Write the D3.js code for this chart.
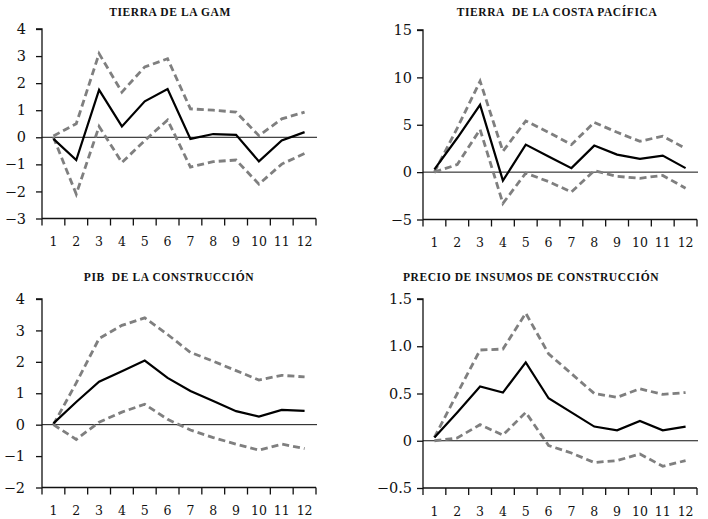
<!DOCTYPE html>
<html><head><meta charset="utf-8">
<script src="https://cdn.jsdelivr.net/npm/d3@7"></script>
<style>
html,body{margin:0;padding:0;background:#fff;}
svg{display:block;}
</style>
</head><body>
<script>
const categories = [1,2,3,4,5,6,7,8,9,10,11,12];

const titles = ["TIERRA DE LA GAM", "TIERRA\u00a0 DE LA COSTA PACÍFICA", "PIB\u00a0 DE LA CONSTRUCCIÓN", "PRECIO DE INSUMOS DE CONSTRUCCIÓN"];

const gamCenter = [-0.06,-0.84,1.75,0.40,1.33,1.78,-0.06,0.12,0.09,-0.89,-0.12,0.19];
const gamUpper  = [0.05,0.50,3.09,1.67,2.60,2.90,1.05,1.00,0.93,0.06,0.68,0.93];
const gamLower  = [0.00,-2.10,0.40,-0.93,-0.12,0.64,-1.10,-0.90,-0.84,-1.73,-0.99,-0.60];

const costaCenter = [0.3,3.6,7.1,-0.9,2.9,1.65,0.42,2.8,1.85,1.4,1.75,0.42];
const costaUpper  = [0.0,4.65,9.6,2.2,5.4,4.2,2.9,5.25,4.2,3.25,3.8,2.5];
const costaLower  = [0.0,0.8,4.5,-3.3,-0.1,-1.0,-2.1,0.15,-0.45,-0.65,-0.35,-1.7];

const pibCenter = [0.04,0.72,1.37,1.70,2.04,1.49,1.07,0.75,0.43,0.26,0.47,0.44];
const pibUpper  = [0.0,1.33,2.74,3.16,3.40,2.87,2.30,2.02,1.72,1.42,1.57,1.52];
const pibLower  = [0.0,-0.47,0.08,0.40,0.65,0.17,-0.17,-0.41,-0.62,-0.81,-0.62,-0.76];

const precioCenter = [0.035,0.30,0.575,0.51,0.83,0.45,0.30,0.15,0.11,0.21,0.11,0.15];
const precioUpper  = [0.035,0.50,0.96,0.97,1.35,0.92,0.71,0.50,0.46,0.55,0.49,0.51];
const precioLower  = [0.0,0.03,0.17,0.06,0.30,-0.05,-0.13,-0.23,-0.21,-0.14,-0.27,-0.21];

const gamTicks = [-3,-2,-1,0,1,2,3,4];
const costaTicks = [-5,0,5,10,15];
const pibTicks = [-2,-1,0,1,2,3,4];
const precioTicks = [-0.5,0,0.5,1.0,1.5];
const precioTickLabels = ["\u22120.5","0","0.5","1.0","1.5"];

const W = 708, H = 519;
const svg = d3.select("body").append("svg").attr("width", W).attr("height", H);
svg.append("rect").attr("width", W).attr("height", H).attr("fill", "#fff");

const intFmt = d => d < 0 ? "\u2212" + Math.abs(d) : String(d);

const panels = [
  {title: titles[0], center: gamCenter, upper: gamUpper, lower: gamLower, ticks: gamTicks,
   fmt: intFmt, x0: 42, x1: 316, y0: 29, y1: 218.5, tx: 170, ty: 16, pad: 10},
  {title: titles[1], center: costaCenter, upper: costaUpper, lower: costaLower, ticks: costaTicks,
   fmt: intFmt, x0: 423, x1: 697, y0: 30, y1: 219.5, tx: 557, ty: 16, pad: 5},
  {title: titles[2], center: pibCenter, upper: pibUpper, lower: pibLower, ticks: pibTicks,
   fmt: intFmt, x0: 42, x1: 316, y0: 299, y1: 487.5, tx: 169, ty: 281, pad: 11},
  {title: titles[3], center: precioCenter, upper: precioUpper, lower: precioLower, ticks: precioTicks,
   fmt: (d, i) => precioTickLabels[i], x0: 423, x1: 697, y0: 299, y1: 488, tx: 531, ty: 281, pad: 5}
];

panels.forEach(p => {
  const g = svg.append("g");
  const x = d3.scaleBand().domain(categories).range([p.x0, p.x1]);
  const y = d3.scaleLinear().domain([p.ticks[0], p.ticks[p.ticks.length - 1]]).range([p.y1, p.y0]);

  // title
  g.append("text")
    .attr("x", p.tx).attr("y", p.ty)
    .attr("text-anchor", "middle")
    .attr("font-family", "'Liberation Serif', serif")
    .attr("font-weight", "bold")
    .attr("font-size", 11.5)
    .attr("letter-spacing", 0.6)
    .attr("fill", "#111")
    .text(p.title);

  // y axis
  const yAxis = d3.axisLeft(y).tickValues(p.ticks).tickSize(6).tickPadding(p.pad).tickFormat(p.fmt);
  const ya = g.append("g").attr("transform", `translate(${p.x0},0)`).call(yAxis);
  ya.select(".domain").attr("d", `M-6,${p.y0}H0V${p.y1}`).attr("stroke", "#111").attr("stroke-width", 1.3);
  ya.selectAll(".tick line").attr("stroke", "#111").attr("stroke-width", 1.3);
  ya.selectAll(".tick text").attr("font-family", "'DejaVu Serif', serif").attr("font-size", 14.5).attr("fill", "#111");

  // x axis (ticks at band boundaries)
  const xa = g.append("g").attr("transform", `translate(0,${p.y1})`);
  xa.append("line").attr("x1", p.x0).attr("x2", p.x1).attr("stroke", "#111").attr("stroke-width", 1.3);
  const bounds = categories.map(c => x(c)).concat([x(categories[categories.length - 1]) + x.bandwidth()]);
  xa.selectAll("line.tk").data(bounds).join("line").attr("class", "tk")
    .attr("x1", d => d).attr("x2", d => d).attr("y1", 0).attr("y2", 7)
    .attr("stroke", "#111").attr("stroke-width", 1.3);
  xa.selectAll("text").data(categories).join("text")
    .attr("x", d => x(d) + x.bandwidth() / 2).attr("y", 27.5)
    .attr("text-anchor", "middle")
    .attr("font-family", "'DejaVu Serif', serif").attr("font-size", 12.5)
    .attr("fill", "#111")
    .text(d => d);

  // zero line
  g.append("line").attr("x1", p.x0).attr("x2", p.x1 + 1).attr("y1", y(0)).attr("y2", y(0))
    .attr("stroke", "#111").attr("stroke-width", 1);

  const line = d3.line().x((d, i) => x(categories[i]) + x.bandwidth() / 2).y(d => y(d));

  [p.upper, p.lower].forEach(s => {
    g.append("path").attr("d", line(s)).attr("fill", "none")
      .attr("stroke", "#7f7f7f").attr("stroke-width", 2.8)
      .attr("stroke-dasharray", "7,4");
  });
  g.append("path").attr("d", line(p.center)).attr("fill", "none")
    .attr("stroke", "#000").attr("stroke-width", 2.2).attr("stroke-linejoin", "miter");
});
</script>
</body></html>
